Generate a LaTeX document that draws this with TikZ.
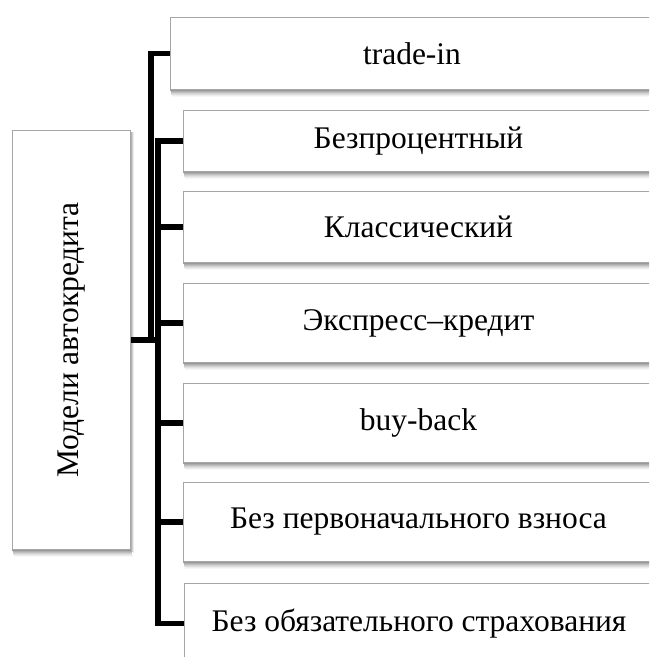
\documentclass[tikz,border=0pt]{standalone}
\usepackage{fontspec}
\setmainfont{Liberation Serif}
\usetikzlibrary{backgrounds}
\definecolor{boxgray}{HTML}{A6A6A6}
\tikzset{
  box/.style={draw=boxgray, line width=1pt, fill=white, inner sep=0pt,
    anchor=north west, font=\fontsize{31.5}{36}\selectfont},
  conn/.style={line width=5.5pt, black, line join=miter}
}
\newcommand{\boxtext}[2]{\makebox[#1pt][c]{#2}\hspace*{80pt}}
\begin{document}
\begin{tikzpicture}[x=1pt, y=-1pt]
\useasboundingbox (0,0) rectangle (649,657);
\begin{scope}
\clip (0,0) rectangle (649,657);
\node[box, minimum width=118, minimum height=419] (root) at (12,130) {\rotatebox{90}{Модели автокредита}};
\node[box, minimum width=563, minimum height=72] (b1) at (170,17) {\boxtext{483}{trade-in}};
\node[box, minimum width=550, minimum height=61] (b2) at (183,110) {\boxtext{470}{Безпроцентный}};
\node[box, minimum width=550, minimum height=71] (b3) at (183,191) {\boxtext{470}{Классический}};
\node[box, minimum width=550, minimum height=79] (b4) at (183,283) {\boxtext{470}{Экспресс–кредит}};
\node[box, minimum width=550, minimum height=79] (b5) at (183,383) {\boxtext{470}{buy-back}};
\node[box, minimum width=550, minimum height=79] (b6) at (183,482) {\boxtext{470}{Без первоначального взноса}};
\node[box, minimum width=549, minimum height=80] (b7) at (184,583) {\boxtext{469}{Без обязательного страхования}};
\coordinate (j1) at (151,340);
\coordinate (j2) at (158,340);
\draw[conn] (root.east) -- (root.east -| j2);
\draw[conn] (b1.west) -| (j1);
\draw[conn] (b2.west) -| (j2 |- b7.west) -- (b7.west);
\draw[conn] (j2 |- b3.west) -- (b3.west);
\draw[conn] (j2 |- b4.west) -- (b4.west);
\draw[conn] (j2 |- b5.west) -- (b5.west);
\draw[conn] (j2 |- b6.west) -- (b6.west);
\end{scope}
\begin{scope}[on background layer]
\clip (0,0) rectangle (649,657);
\fill[white] (0,0) rectangle (649,657);
% soft shadow strips under every box
\foreach \n in {root,b1,b2,b3,b4,b5,b6,b7}{
  \foreach \k/\c in {1/40,2/32,3/25,4/18,5/12,6/7,7/3}{
    \fill[black!\c] ([xshift=0.25*\k pt, yshift=-\k pt+1pt]\n.south west) rectangle ([xshift=0.25*\k pt, yshift=-\k pt]\n.south east);
  }
}
% light shadow on the right side of the root box
\foreach \k/\c in {1/30,2/18,3/8}{
  \fill[black!\c] ([xshift=\k pt-1pt, yshift=-2pt]root.north east) rectangle ([xshift=\k pt, yshift=-\k pt]root.south east);
}
\end{scope}
\end{tikzpicture}
\end{document}
